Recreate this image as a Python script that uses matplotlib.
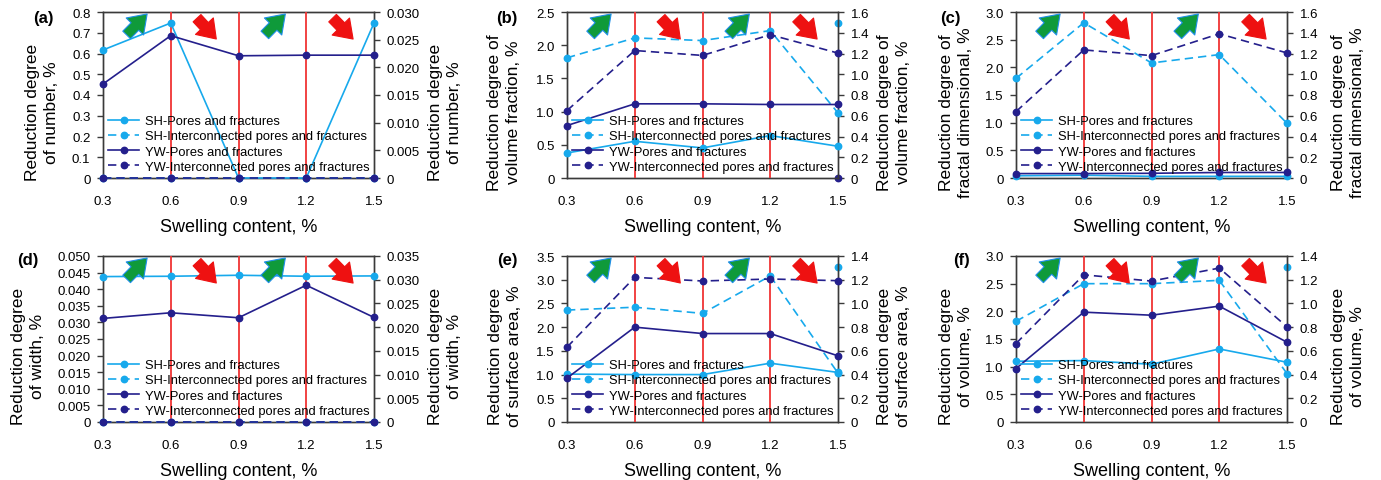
#importing libraries
import numpy as np
import matplotlib.pyplot as plt
from matplotlib.ticker import FuncFormatter

plt.rcParams['font.family'] = ['Liberation Sans', 'DejaVu Sans']

# swelling content (x axis)
swelling = [0.3, 0.6, 0.9, 1.2, 1.5]
series_names = ['SH-Pores and fractures', 'SH-Interconnected pores and fractures',
                'YW-Pores and fractures', 'YW-Interconnected pores and fractures']

# (a) number
a_sh_pf = [0.617, 0.747, 0, 0, 0.747]
a_sh_ic = [0, 0, 0, 0, 0]
a_yw_pf = [0.453, 0.686, 0.589, 0.592, 0.592]
a_yw_ic = [0, 0, 0, 0, 0]

# (b) volume fraction
b_sh_pf = [0.377, 0.553, 0.453, 0.639, 0.478]
b_sh_ic = [1.81, 2.11, 2.07, 2.22, 0.98]
b_yw_pf = [0.79, 1.117, 1.117, 1.107, 1.107]
b_yw_ic = [1.016, 1.92, 1.846, 2.158, 1.881]
b_right_sh = 1.494   # single points on the secondary axis at x=1.5
b_right_yw = 0.0

# (c) fractal dimensional
c_sh_pf = [0.04, 0.05, 0.03, 0.03, 0.03]
c_sh_ic = [1.8, 2.806, 2.079, 2.23, 0.988]
c_yw_pf = [0.08, 0.08, 0.085, 0.1, 0.1]
c_yw_ic = [1.2, 2.315, 2.212, 2.606, 2.26]

# (d) width
d_sh_pf = [0.0438, 0.0439, 0.0442, 0.0439, 0.0440]
d_sh_ic = [0, 0, 0, 0, 0]
d_yw_pf = [0.0312, 0.0329, 0.0314, 0.0412, 0.0315]
d_yw_ic = [0, 0, 0, 0, 0]

# (e) surface area
e_sh_pf = [1.01, 1.0, 1.0, 1.24, 1.045]
e_sh_ic = [2.36, 2.42, 2.29, 3.08, 1.03]
e_yw_pf = [0.926, 2.0, 1.865, 1.865, 1.395]
e_yw_ic = [1.578, 3.05, 2.973, 3.015, 2.98]
e_right_sh = 1.305

# (f) volume
f_sh_pf = [1.098, 1.11, 1.044, 1.32, 1.08]
f_sh_ic = [1.82, 2.5, 2.5, 2.56, 0.875]
f_yw_pf = [0.966, 1.985, 1.93, 2.094, 1.442]
f_yw_ic = [1.418, 2.66, 2.547, 2.782, 1.72]
f_right_sh = 1.31

light = '#17a9ec'
dark = '#241f8c'
red = '#f03434'

fig = plt.figure(figsize=(13.81, 4.81), dpi=100)

W, H = 1381, 481
col_left = [103, 567, 1016]
row_top = [13, 257]
ax_w, ax_h = 271, 166

# tag, ylabel, data, left scale, right scale, extra right points, tag pos, label x (left, right)
panels = [
    ('(a)', 'Reduction degree\nof number, %', (a_sh_pf, a_sh_ic, a_yw_pf, a_yw_ic),
     (0, 0.8, 0.1, 1), (0, 0.030, 0.005, 3), None, None, (43, 18), (-0.225, 1.262)),
    ('(b)', 'Reduction degree of\nvolume fraction, %', (b_sh_pf, b_sh_ic, b_yw_pf, b_yw_ic),
     (0, 2.5, 0.5, 1), (0, 1.6, 0.2, 1), b_right_sh, b_right_yw, (507, 18), (-0.232, 1.207)),
    ('(c)', 'Reduction degree of\nfractal dimensional, %', (c_sh_pf, c_sh_ic, c_yw_pf, c_yw_ic),
     (0, 3.0, 0.5, 1), (0, 1.6, 0.2, 1), None, None, (950, 18), (-0.221, 1.225)),
    ('(d)', 'Reduction degree\nof width, %', (d_sh_pf, d_sh_ic, d_yw_pf, d_yw_ic),
     (0, 0.050, 0.005, 3), (0, 0.035, 0.005, 3), None, None, (28, 261), (-0.277, 1.262)),
    ('(e)', 'Reduction degree\nof surface area, %', (e_sh_pf, e_sh_ic, e_yw_pf, e_yw_ic),
     (0, 3.5, 0.5, 1), (0, 1.4, 0.2, 1), e_right_sh, None, (507, 261), (-0.229, 1.207)),
    ('(f)', 'Reduction degree\nof volume, %', (f_sh_pf, f_sh_ic, f_yw_pf, f_yw_ic),
     (0, 3.0, 0.5, 1), (0, 1.4, 0.2, 1), f_right_sh, None, (962, 261), (-0.221, 1.225)),
]


def fmt(dec):
    return FuncFormatter(lambda v, p: '0' if abs(v) < 1e-12 else f'{v:.{dec}f}')


for k, (tag, ylab, data, lsc, rsc, r_sh, r_yw, tagpos, labx) in enumerate(panels):
    r, c = divmod(k, 3)
    left = col_left[c] / W
    bottom = 1 - (row_top[r] + ax_h) / H
    ax = fig.add_axes([left, bottom, ax_w / W, ax_h / H])
    ax2 = ax.twinx()

    styles = [(light, '-'), (light, (0, (5, 3))), (dark, '-'), (dark, (0, (5, 3)))]
    for vals, (col, ls), name in zip(data, styles, series_names):
        ax.plot(swelling, vals, color=col, ls=ls, lw=1.2, marker='o', ms=4.6,
                label=name, clip_on=False, zorder=4)
    if r_sh is not None:
        ax2.plot([swelling[-1]], [r_sh], 'o', color=light, ms=4.6, clip_on=False)
    if r_yw is not None:
        ax2.plot([swelling[-1]], [r_yw], 'o', color=dark, ms=4.6, clip_on=False)

    for xv in swelling[1:4]:
        ax.axvline(xv, color=red, lw=1.3, zorder=3)

    ax.set_xlim(0.3, 1.5)
    ax.set_xticks(swelling)
    ax.set_xticklabels([f'{v:.1f}' for v in swelling])
    ax.set_ylim(lsc[0], lsc[1])
    ax.set_yticks(np.arange(lsc[0], lsc[1] + lsc[2] / 2, lsc[2]))
    ax.yaxis.set_major_formatter(fmt(lsc[3]))
    ax2.set_ylim(rsc[0], rsc[1])
    ax2.set_yticks(np.arange(rsc[0], rsc[1] + rsc[2] / 2, rsc[2]))
    ax2.yaxis.set_major_formatter(fmt(rsc[3]))

    for a in (ax, ax2):
        for s in a.spines.values():
            s.set_color('#3a3a3a')
            s.set_linewidth(1.0)
    ax.tick_params(axis='y', direction='out', length=4, width=1, color='#3a3a3a',
                   labelsize=9.5, pad=5)
    ax2.tick_params(axis='y', direction='out', length=4, width=1, color='#3a3a3a',
                    labelsize=9.5, pad=5)
    ax.tick_params(axis='x', length=0, labelsize=9.5, pad=12)

    ax.set_xlabel('Swelling content, %', fontsize=13, labelpad=8)
    ax.set_ylabel(ylab, fontsize=12.5, va='center', ha='center', linespacing=1.3)
    ax2.set_ylabel(ylab, fontsize=12.5, va='center', ha='center', linespacing=1.3)
    ax.yaxis.set_label_coords(labx[0], 0.40)
    ax2.yaxis.set_label_coords(labx[1], 0.40)

    # trend arrows
    arrows = [((0.08, 0.85), (0.17, 1.0), '#0f9a3a'), ((0.34, 0.975), (0.425, 0.825), '#ee1111'),
              ((0.59, 0.85), (0.68, 1.0), '#0f9a3a'), ((0.84, 0.975), (0.93, 0.825), '#ee1111')]
    for (x0, y0), (x1, y1), col in arrows:
        ec = '#1e8ee8' if col == '#0f9a3a' else col
        ax.annotate('', xy=(x1, y1), xytext=(x0, y0), xycoords='axes fraction',
                    arrowprops=dict(arrowstyle='simple,head_width=1.25,head_length=0.9,tail_width=0.55',
                                    fc=col, ec=ec, lw=0.8, mutation_scale=14),
                    zorder=6)

    ax.legend(loc='lower left', bbox_to_anchor=(0.0, 0.0), frameon=False, fontsize=9.3,
              handlelength=2.4, handletextpad=0.45, labelspacing=0.25, borderaxespad=0.2,
              borderpad=0.2)
    ax.set_zorder(ax2.get_zorder() + 1)
    ax.patch.set_visible(False)

    fig.text(tagpos[0] / W, 1 - tagpos[1] / H, tag, fontsize=12, fontweight='bold',
             ha='center', va='center')

plt.savefig('out.png', dpi=100)
